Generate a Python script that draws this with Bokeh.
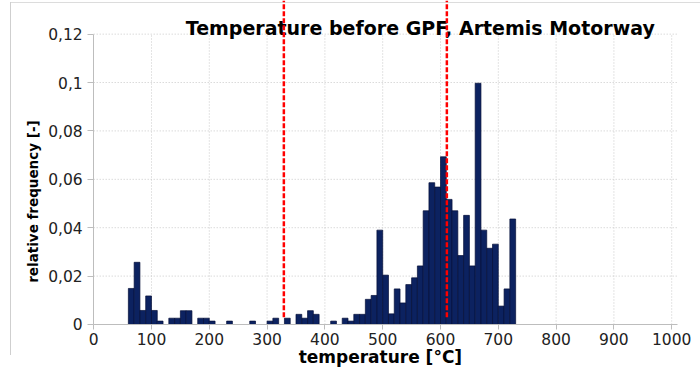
import math
from bokeh.plotting import figure
from bokeh.models import Range1d, FixedTicker, Label, ColumnDataSource
from bokeh.core.properties import value
from bokeh.embed import file_html
from bokeh.resources import INLINE

# ---------------- data ----------------
bin_width = 10
bin_start = list(range(60, 730, 10))
rel_freq = [
    0.0149, 0.0257, 0.0058, 0.0118, 0.0058, 0.0014, 0.0,    0.0026, 0.0026, 0.0057,  # 60-150
    0.0057, 0.0,    0.0026, 0.0026, 0.0014, 0.0,    0.0,    0.0014, 0.0,    0.0,     # 160-250
    0.0,    0.0014, 0.0,    0.0,    0.0014, 0.0026, 0.0,    0.0026, 0.0,    0.0042,  # 260-350
    0.0026, 0.0057, 0.0042, 0.0,    0.0,    0.0014, 0.0,    0.0026, 0.0014, 0.0042,  # 360-450
    0.0042, 0.0104, 0.0120, 0.0390, 0.0204, 0.0044, 0.0147, 0.0089, 0.0165, 0.0193,  # 460-550
    0.0242, 0.0470, 0.0586, 0.0568, 0.0693, 0.0517, 0.0470, 0.0285, 0.0451, 0.0242,  # 560-650
    0.0997, 0.0390, 0.0315, 0.0332, 0.0076, 0.0147, 0.0436,                          # 660-720
]
marker_temps = [329, 611]
x_ticks = [0, 100, 200, 300, 400, 500, 600, 700, 800, 900, 1000]
y_ticks = [0, 0.02, 0.04, 0.06, 0.08, 0.1, 0.12]
y_tick_labels = ["0", "0,02", "0,04", "0,06", "0,08", "0,1", "0,12"]
title_text = "Temperature before GPF, Artemis Motorway"
x_label = "temperature [°C]"
y_label = "relative frequency [-]"

# value-axis extents and the view window (axes sit inside the frame)
X_AXIS_MAX = 1010
Y_AXIS_MAX = 0.12
X_VIEW = (-161.2, 1049.8)
Y_VIEW = (-0.0186, 0.1339)

# ---------------- figure ----------------
p = figure(width=700, height=369, x_range=Range1d(*X_VIEW), y_range=Range1d(*Y_VIEW),
           output_backend="svg", toolbar_location=None, title=None, min_border=0)
p.outline_line_color = None
p.background_fill_color = None
p.border_fill_color = None
p.styles = {
    "background": "linear-gradient(#cfcfcf,#cfcfcf) 10px 2px / 1px 353px no-repeat, "
                  "linear-gradient(#dcdcdc,#dcdcdc) 10px 2px / 690px 1px no-repeat"
}

axis_grey = "#bdbdbd"
for ax in (p.xaxis[0], p.yaxis[0]):
    ax.axis_line_color = axis_grey
    ax.major_tick_line_color = axis_grey
    ax.minor_tick_line_color = None
    ax.major_tick_in = 0
    ax.major_label_text_font = "DejaVu Sans"
    ax.major_label_text_font_size = "15.5px"
    ax.major_label_text_color = "#222222"

p.xaxis.fixed_location = 0
p.xaxis.bounds = (0, X_AXIS_MAX)
p.xaxis.ticker = FixedTicker(ticks=x_ticks)
p.xaxis.major_tick_out = 5
p.xaxis.major_label_standoff = 4

p.yaxis.fixed_location = 0
p.yaxis.bounds = (0, Y_AXIS_MAX)
p.yaxis.ticker = FixedTicker(ticks=y_ticks)
p.yaxis.major_label_overrides = {t: s for t, s in zip(y_ticks, y_tick_labels)}
p.yaxis.major_tick_out = 6
p.yaxis.major_label_standoff = 5

p.xgrid.visible = False
p.ygrid.visible = False

grid_grey = "#c8c8c8"
# vertical grid lines over the value axis extent
p.segment(x0=x_ticks[1:], y0=0, x1=x_ticks[1:], y1=Y_AXIS_MAX,
          line_color=grid_grey, line_dash="1 2", line_width=1)
# horizontal grid lines over the category axis extent
p.segment(x0=0, y0=y_ticks[1:], x1=X_AXIS_MAX, y1=y_ticks[1:],
          line_color=grid_grey, line_dash="1 2", line_width=1)

# title (drawn as glyph so the red markers cross over it)
p.text(x=[565], y=[0.1226], text=[title_text], text_font=value("DejaVu Sans"),
       text_font_style="bold", text_font_size="19px", text_align="center",
       text_baseline="alphabetic", text_color="#000000")

# bars
xs, tops = [], []
for s, v in zip(bin_start, rel_freq):
    if v > 0:
        xs.append(s + bin_width / 2)
        tops.append(v)
src = ColumnDataSource(dict(x=xs, top=tops))
p.vbar(x="x", top="top", bottom=0, width=bin_width, source=src,
       fill_color="#0c2260", line_color="#050f38", line_width=0.7)

# red dashed markers
p.segment(x0=marker_temps, y0=0.003, x1=marker_temps, y1=Y_VIEW[1],
          line_color="#ff0000", line_width=2.5, line_dash="5 2")

# axis titles
p.add_layout(Label(x=-105.5, y=0.0508, text=y_label, angle=math.pi / 2,
                   text_align="center", text_baseline="middle",
                   text_font="DejaVu Sans", text_font_style="bold",
                   text_font_size="13.5px", text_color="#000000"))
p.add_layout(Label(x=496, y=-0.0133, text=x_label,
                   text_align="center", text_baseline="alphabetic",
                   text_font="DejaVu Sans", text_font_style="bold",
                   text_font_size="17px", text_color="#000000"))

open("out.html", "w").write(file_html(p, INLINE))
